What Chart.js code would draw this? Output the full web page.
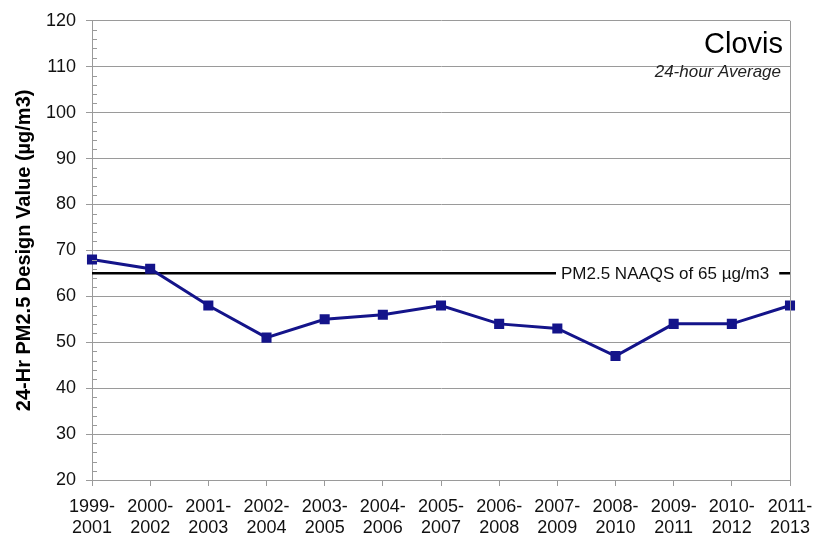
<!DOCTYPE html>
<html>
<head>
<meta charset="utf-8">
<script src="https://cdn.jsdelivr.net/npm/chart.js@4"></script>
<style>
  html, body { margin: 0; padding: 0; background: #fff; }
  #wrap { width: 814px; height: 537px; }
</style>
</head>
<body>
<div id="wrap"><canvas id="pmChart" width="814" height="537"></canvas></div>
<script>
// Chart data
const periods = [
  ["1999-", "2001"], ["2000-", "2002"], ["2001-", "2003"], ["2002-", "2004"],
  ["2003-", "2005"], ["2004-", "2006"], ["2005-", "2007"], ["2006-", "2008"],
  ["2007-", "2009"], ["2008-", "2010"], ["2009-", "2011"], ["2010-", "2012"],
  ["2011-", "2013"]
];
const designValues = [68, 66, 58, 51, 55, 56, 58, 54, 53, 47, 54, 54, 58];
const naaqsLevel = 65;
const naaqsLine = periods.map(() => naaqsLevel);
const yTicks = [20, 30, 40, 50, 60, 70, 80, 90, 100, 110, 120];

const FONT = "'Liberation Sans', Arial, sans-serif";
const GRID = "#9a9a9a";

// Extra drawing: minor ticks, right border, standard label, titles
const decorations = {
  id: "decorations",
  afterDatasetsDraw(chart) {
    const { ctx, chartArea, scales } = chart;
    const y = scales.y;
    ctx.save();

    // minor ticks inside the y axis
    ctx.strokeStyle = GRID;
    ctx.lineWidth = 1;
    for (let v = 20; v < 120; v += 2) {
      if (v % 10 === 0) continue;
      const py = Math.round(y.getPixelForValue(v)) + 0.5;
      ctx.beginPath();
      ctx.moveTo(chartArea.left, py);
      ctx.lineTo(chartArea.left + 5, py);
      ctx.stroke();
    }

    // right border
    ctx.beginPath();
    ctx.moveTo(Math.round(chartArea.right) + 0.5, chartArea.top);
    ctx.lineTo(Math.round(chartArea.right) + 0.5, chartArea.bottom);
    ctx.stroke();

    // NAAQS label with white box
    const ly = y.getPixelForValue(naaqsLevel);
    ctx.font = "17px " + FONT;
    const label = "PM2.5 NAAQS of 65 \u00b5g/m3";
    const w = ctx.measureText(label).width;
    const lx = 561;
    ctx.fillStyle = "#fff";
    ctx.fillRect(lx - 5, ly - 10, w + 15, 20);
    ctx.fillStyle = "#111";
    ctx.textBaseline = "middle";
    ctx.textAlign = "left";
    ctx.fillText(label, lx, ly + 1);

    // titles
    ctx.textAlign = "right";
    ctx.textBaseline = "alphabetic";
    ctx.fillStyle = "#000";
    ctx.font = "29px " + FONT;
    ctx.fillText("Clovis", 783, 53);
    ctx.fillStyle = "#222";
    ctx.font = "italic 17px " + FONT;
    ctx.fillText("24-hour Average", 781, 77);

    ctx.restore();
  }
};

new Chart(document.getElementById("pmChart"), {
  type: "line",
  data: {
    labels: periods,
    datasets: [
      {
        label: "NAAQS",
        data: naaqsLine,
        borderColor: "#000",
        borderWidth: 2.5,
        pointRadius: 0,
        order: 2
      },
      {
        label: "Design Value",
        data: designValues,
        borderColor: "#14148a",
        backgroundColor: "#14148a",
        borderWidth: 3,
        pointStyle: "rect",
        pointRadius: 5,
        tension: 0,
        order: 1
      }
    ]
  },
  options: {
    responsive: false,
    animation: false,
    layout: { padding: { top: 20, right: 24, left: 0, bottom: 0 } },
    plugins: {
      legend: { display: false },
      tooltip: { enabled: false }
    },
    scales: {
      x: {
        offset: false,
        grid: {
          drawOnChartArea: false,
          drawTicks: true,
          tickLength: 6,
          color: GRID
        },
        border: { color: GRID, width: 1 },
        ticks: {
          color: "#111",
          font: { family: FONT, size: 18 },
          padding: 10,
          maxRotation: 0,
          autoSkip: false
        },
        afterFit(scale) {
          scale.height = 57;
          scale.paddingLeft = 0;
          scale.paddingRight = 0;
        }
      },
      y: {
        min: 20,
        max: 120,
        afterBuildTicks(scale) {
          scale.ticks = yTicks.map(v => ({ value: v }));
        },
        grid: { color: GRID, tickLength: 6 },
        border: { color: GRID, width: 1 },
        ticks: {
          color: "#111",
          font: { family: FONT, size: 18 },
          padding: 10
        },
        title: {
          display: true,
          text: "24-Hr PM2.5 Design Value (\u00b5g/m3)",
          color: "#000",
          font: { family: FONT, size: 20, weight: "bold" },
          padding: { top: 12, bottom: 0 }
        },
        afterFit(scale) { scale.width = 92; }
      }
    }
  },
  plugins: [decorations]
});
</script>
</body>
</html>
